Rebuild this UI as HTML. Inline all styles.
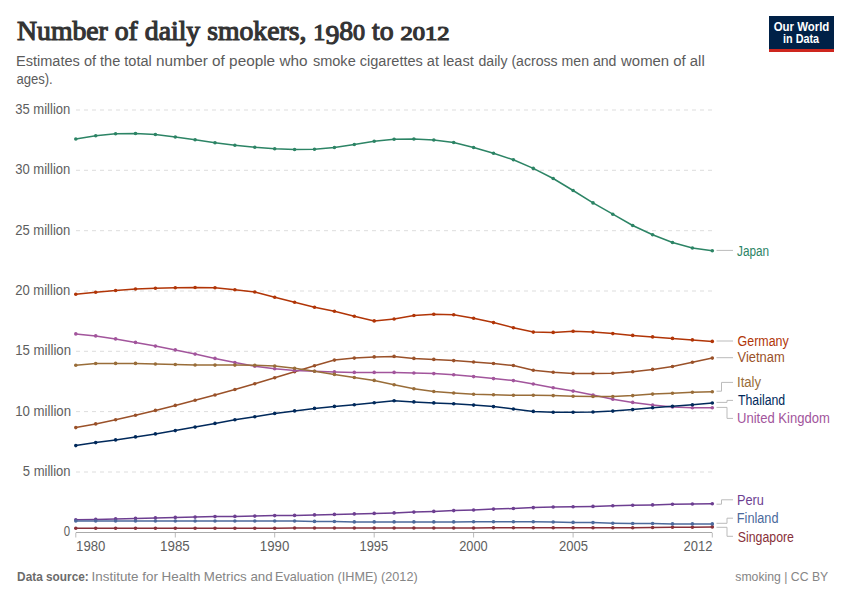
<!DOCTYPE html>
<html><head><meta charset="utf-8"><style>
html,body{margin:0;padding:0;background:#fff;}
body{width:850px;height:600px;overflow:hidden;position:relative;}
svg{position:absolute;left:0;top:0;}
</style></head><body>
<svg width="850" height="600" viewBox="0 0 850 600">
<rect x="769" y="16" width="65" height="36" fill="#002147"/>
<rect x="769" y="49" width="65" height="3" fill="#CE261E"/>
<line x1="76" x2="712" y1="472.0" y2="472.0" stroke="#ddd" stroke-width="1" stroke-dasharray="4,4"/>
<line x1="76" x2="712" y1="411.6" y2="411.6" stroke="#ddd" stroke-width="1" stroke-dasharray="4,4"/>
<line x1="76" x2="712" y1="351.3" y2="351.3" stroke="#ddd" stroke-width="1" stroke-dasharray="4,4"/>
<line x1="76" x2="712" y1="291.0" y2="291.0" stroke="#ddd" stroke-width="1" stroke-dasharray="4,4"/>
<line x1="76" x2="712" y1="230.7" y2="230.7" stroke="#ddd" stroke-width="1" stroke-dasharray="4,4"/>
<line x1="76" x2="712" y1="170.3" y2="170.3" stroke="#ddd" stroke-width="1" stroke-dasharray="4,4"/>
<line x1="76" x2="712" y1="110.0" y2="110.0" stroke="#ddd" stroke-width="1" stroke-dasharray="4,4"/>
<line x1="75.8" x2="712.2" y1="532.5" y2="532.5" stroke="#aaa" stroke-width="1"/>
<line x1="75.8" x2="75.8" y1="533" y2="537.5" stroke="#bbb" stroke-width="1"/>
<line x1="175.3" x2="175.3" y1="533" y2="537.5" stroke="#bbb" stroke-width="1"/>
<line x1="274.7" x2="274.7" y1="533" y2="537.5" stroke="#bbb" stroke-width="1"/>
<line x1="374.2" x2="374.2" y1="533" y2="537.5" stroke="#bbb" stroke-width="1"/>
<line x1="473.6" x2="473.6" y1="533" y2="537.5" stroke="#bbb" stroke-width="1"/>
<line x1="573.1" x2="573.1" y1="533" y2="537.5" stroke="#bbb" stroke-width="1"/>
<line x1="712.3" x2="712.3" y1="533" y2="537.5" stroke="#bbb" stroke-width="1"/>
<polyline points="75.8,427.6 95.7,423.9 115.6,419.7 135.5,415.2 155.4,410.4 175.3,405.4 195.1,400.2 215.0,395.0 234.9,389.5 254.8,383.7 274.7,377.8 294.6,371.8 314.5,365.7 334.4,360.1 354.3,358.1 374.2,356.9 394.1,356.4 413.9,358.4 433.8,359.4 453.7,360.6 473.6,362.0 493.5,363.5 513.4,365.5 533.3,370.3 553.2,372.3 573.1,373.4 593.0,373.4 612.8,373.2 632.7,371.7 652.6,369.4 672.5,366.5 692.4,362.3 712.3,358.1" fill="none" stroke="#9A5129" stroke-width="1.5"/>
<circle cx="75.8" cy="427.6" r="1.8" fill="#9A5129"/>
<circle cx="95.7" cy="423.9" r="1.8" fill="#9A5129"/>
<circle cx="115.6" cy="419.7" r="1.8" fill="#9A5129"/>
<circle cx="135.5" cy="415.2" r="1.8" fill="#9A5129"/>
<circle cx="155.4" cy="410.4" r="1.8" fill="#9A5129"/>
<circle cx="175.3" cy="405.4" r="1.8" fill="#9A5129"/>
<circle cx="195.1" cy="400.2" r="1.8" fill="#9A5129"/>
<circle cx="215.0" cy="395.0" r="1.8" fill="#9A5129"/>
<circle cx="234.9" cy="389.5" r="1.8" fill="#9A5129"/>
<circle cx="254.8" cy="383.7" r="1.8" fill="#9A5129"/>
<circle cx="274.7" cy="377.8" r="1.8" fill="#9A5129"/>
<circle cx="294.6" cy="371.8" r="1.8" fill="#9A5129"/>
<circle cx="314.5" cy="365.7" r="1.8" fill="#9A5129"/>
<circle cx="334.4" cy="360.1" r="1.8" fill="#9A5129"/>
<circle cx="354.3" cy="358.1" r="1.8" fill="#9A5129"/>
<circle cx="374.2" cy="356.9" r="1.8" fill="#9A5129"/>
<circle cx="394.1" cy="356.4" r="1.8" fill="#9A5129"/>
<circle cx="413.9" cy="358.4" r="1.8" fill="#9A5129"/>
<circle cx="433.8" cy="359.4" r="1.8" fill="#9A5129"/>
<circle cx="453.7" cy="360.6" r="1.8" fill="#9A5129"/>
<circle cx="473.6" cy="362.0" r="1.8" fill="#9A5129"/>
<circle cx="493.5" cy="363.5" r="1.8" fill="#9A5129"/>
<circle cx="513.4" cy="365.5" r="1.8" fill="#9A5129"/>
<circle cx="533.3" cy="370.3" r="1.8" fill="#9A5129"/>
<circle cx="553.2" cy="372.3" r="1.8" fill="#9A5129"/>
<circle cx="573.1" cy="373.4" r="1.8" fill="#9A5129"/>
<circle cx="593.0" cy="373.4" r="1.8" fill="#9A5129"/>
<circle cx="612.8" cy="373.2" r="1.8" fill="#9A5129"/>
<circle cx="632.7" cy="371.7" r="1.8" fill="#9A5129"/>
<circle cx="652.6" cy="369.4" r="1.8" fill="#9A5129"/>
<circle cx="672.5" cy="366.5" r="1.8" fill="#9A5129"/>
<circle cx="692.4" cy="362.3" r="1.8" fill="#9A5129"/>
<circle cx="712.3" cy="358.1" r="1.8" fill="#9A5129"/>
<polyline points="75.8,333.9 95.7,335.9 115.6,338.9 135.5,342.4 155.4,346.1 175.3,349.9 195.1,354.1 215.0,358.4 234.9,362.6 254.8,366.3 274.7,368.7 294.6,370.4 314.5,371.3 334.4,371.9 354.3,372.4 374.2,372.4 394.1,372.4 413.9,373.0 433.8,373.6 453.7,374.8 473.6,376.6 493.5,378.6 513.4,380.6 533.3,384.0 553.2,387.8 573.1,391.1 593.0,395.0 612.8,399.2 632.7,402.4 652.6,405.1 672.5,406.9 692.4,407.8 712.3,407.8" fill="none" stroke="#A2559C" stroke-width="1.5"/>
<circle cx="75.8" cy="333.9" r="1.8" fill="#A2559C"/>
<circle cx="95.7" cy="335.9" r="1.8" fill="#A2559C"/>
<circle cx="115.6" cy="338.9" r="1.8" fill="#A2559C"/>
<circle cx="135.5" cy="342.4" r="1.8" fill="#A2559C"/>
<circle cx="155.4" cy="346.1" r="1.8" fill="#A2559C"/>
<circle cx="175.3" cy="349.9" r="1.8" fill="#A2559C"/>
<circle cx="195.1" cy="354.1" r="1.8" fill="#A2559C"/>
<circle cx="215.0" cy="358.4" r="1.8" fill="#A2559C"/>
<circle cx="234.9" cy="362.6" r="1.8" fill="#A2559C"/>
<circle cx="254.8" cy="366.3" r="1.8" fill="#A2559C"/>
<circle cx="274.7" cy="368.7" r="1.8" fill="#A2559C"/>
<circle cx="294.6" cy="370.4" r="1.8" fill="#A2559C"/>
<circle cx="314.5" cy="371.3" r="1.8" fill="#A2559C"/>
<circle cx="334.4" cy="371.9" r="1.8" fill="#A2559C"/>
<circle cx="354.3" cy="372.4" r="1.8" fill="#A2559C"/>
<circle cx="374.2" cy="372.4" r="1.8" fill="#A2559C"/>
<circle cx="394.1" cy="372.4" r="1.8" fill="#A2559C"/>
<circle cx="413.9" cy="373.0" r="1.8" fill="#A2559C"/>
<circle cx="433.8" cy="373.6" r="1.8" fill="#A2559C"/>
<circle cx="453.7" cy="374.8" r="1.8" fill="#A2559C"/>
<circle cx="473.6" cy="376.6" r="1.8" fill="#A2559C"/>
<circle cx="493.5" cy="378.6" r="1.8" fill="#A2559C"/>
<circle cx="513.4" cy="380.6" r="1.8" fill="#A2559C"/>
<circle cx="533.3" cy="384.0" r="1.8" fill="#A2559C"/>
<circle cx="553.2" cy="387.8" r="1.8" fill="#A2559C"/>
<circle cx="573.1" cy="391.1" r="1.8" fill="#A2559C"/>
<circle cx="593.0" cy="395.0" r="1.8" fill="#A2559C"/>
<circle cx="612.8" cy="399.2" r="1.8" fill="#A2559C"/>
<circle cx="632.7" cy="402.4" r="1.8" fill="#A2559C"/>
<circle cx="652.6" cy="405.1" r="1.8" fill="#A2559C"/>
<circle cx="672.5" cy="406.9" r="1.8" fill="#A2559C"/>
<circle cx="692.4" cy="407.8" r="1.8" fill="#A2559C"/>
<circle cx="712.3" cy="407.8" r="1.8" fill="#A2559C"/>
<polyline points="75.8,445.6 95.7,442.6 115.6,439.9 135.5,436.9 155.4,433.9 175.3,430.6 195.1,427.1 215.0,423.4 234.9,419.7 254.8,416.7 274.7,413.4 294.6,410.9 314.5,408.4 334.4,406.4 354.3,404.7 374.2,402.7 394.1,400.7 413.9,401.9 433.8,402.9 453.7,403.7 473.6,405.1 493.5,406.6 513.4,409.0 533.3,411.4 553.2,412.3 573.1,412.3 593.0,412.0 612.8,411.1 632.7,409.6 652.6,407.8 672.5,406.3 692.4,404.8 712.3,403.0" fill="none" stroke="#00295B" stroke-width="1.5"/>
<circle cx="75.8" cy="445.6" r="1.8" fill="#00295B"/>
<circle cx="95.7" cy="442.6" r="1.8" fill="#00295B"/>
<circle cx="115.6" cy="439.9" r="1.8" fill="#00295B"/>
<circle cx="135.5" cy="436.9" r="1.8" fill="#00295B"/>
<circle cx="155.4" cy="433.9" r="1.8" fill="#00295B"/>
<circle cx="175.3" cy="430.6" r="1.8" fill="#00295B"/>
<circle cx="195.1" cy="427.1" r="1.8" fill="#00295B"/>
<circle cx="215.0" cy="423.4" r="1.8" fill="#00295B"/>
<circle cx="234.9" cy="419.7" r="1.8" fill="#00295B"/>
<circle cx="254.8" cy="416.7" r="1.8" fill="#00295B"/>
<circle cx="274.7" cy="413.4" r="1.8" fill="#00295B"/>
<circle cx="294.6" cy="410.9" r="1.8" fill="#00295B"/>
<circle cx="314.5" cy="408.4" r="1.8" fill="#00295B"/>
<circle cx="334.4" cy="406.4" r="1.8" fill="#00295B"/>
<circle cx="354.3" cy="404.7" r="1.8" fill="#00295B"/>
<circle cx="374.2" cy="402.7" r="1.8" fill="#00295B"/>
<circle cx="394.1" cy="400.7" r="1.8" fill="#00295B"/>
<circle cx="413.9" cy="401.9" r="1.8" fill="#00295B"/>
<circle cx="433.8" cy="402.9" r="1.8" fill="#00295B"/>
<circle cx="453.7" cy="403.7" r="1.8" fill="#00295B"/>
<circle cx="473.6" cy="405.1" r="1.8" fill="#00295B"/>
<circle cx="493.5" cy="406.6" r="1.8" fill="#00295B"/>
<circle cx="513.4" cy="409.0" r="1.8" fill="#00295B"/>
<circle cx="533.3" cy="411.4" r="1.8" fill="#00295B"/>
<circle cx="553.2" cy="412.3" r="1.8" fill="#00295B"/>
<circle cx="573.1" cy="412.3" r="1.8" fill="#00295B"/>
<circle cx="593.0" cy="412.0" r="1.8" fill="#00295B"/>
<circle cx="612.8" cy="411.1" r="1.8" fill="#00295B"/>
<circle cx="632.7" cy="409.6" r="1.8" fill="#00295B"/>
<circle cx="652.6" cy="407.8" r="1.8" fill="#00295B"/>
<circle cx="672.5" cy="406.3" r="1.8" fill="#00295B"/>
<circle cx="692.4" cy="404.8" r="1.8" fill="#00295B"/>
<circle cx="712.3" cy="403.0" r="1.8" fill="#00295B"/>
<polyline points="75.8,528.2 95.7,528.2 115.6,528.2 135.5,528.2 155.4,528.2 175.3,528.2 195.1,528.2 215.0,528.2 234.9,528.2 254.8,528.2 274.7,528.2 294.6,528.0 314.5,528.0 334.4,528.0 354.3,528.0 374.2,528.0 394.1,528.0 413.9,528.0 433.8,528.0 453.7,528.0 473.6,528.0 493.5,527.8 513.4,527.8 533.3,527.8 553.2,527.8 573.1,527.8 593.0,527.8 612.8,527.8 632.7,527.8 652.6,527.5 672.5,527.2 692.4,527.2 712.3,526.9" fill="none" stroke="#883039" stroke-width="1.5"/>
<circle cx="75.8" cy="528.2" r="1.8" fill="#883039"/>
<circle cx="95.7" cy="528.2" r="1.8" fill="#883039"/>
<circle cx="115.6" cy="528.2" r="1.8" fill="#883039"/>
<circle cx="135.5" cy="528.2" r="1.8" fill="#883039"/>
<circle cx="155.4" cy="528.2" r="1.8" fill="#883039"/>
<circle cx="175.3" cy="528.2" r="1.8" fill="#883039"/>
<circle cx="195.1" cy="528.2" r="1.8" fill="#883039"/>
<circle cx="215.0" cy="528.2" r="1.8" fill="#883039"/>
<circle cx="234.9" cy="528.2" r="1.8" fill="#883039"/>
<circle cx="254.8" cy="528.2" r="1.8" fill="#883039"/>
<circle cx="274.7" cy="528.2" r="1.8" fill="#883039"/>
<circle cx="294.6" cy="528.0" r="1.8" fill="#883039"/>
<circle cx="314.5" cy="528.0" r="1.8" fill="#883039"/>
<circle cx="334.4" cy="528.0" r="1.8" fill="#883039"/>
<circle cx="354.3" cy="528.0" r="1.8" fill="#883039"/>
<circle cx="374.2" cy="528.0" r="1.8" fill="#883039"/>
<circle cx="394.1" cy="528.0" r="1.8" fill="#883039"/>
<circle cx="413.9" cy="528.0" r="1.8" fill="#883039"/>
<circle cx="433.8" cy="528.0" r="1.8" fill="#883039"/>
<circle cx="453.7" cy="528.0" r="1.8" fill="#883039"/>
<circle cx="473.6" cy="528.0" r="1.8" fill="#883039"/>
<circle cx="493.5" cy="527.8" r="1.8" fill="#883039"/>
<circle cx="513.4" cy="527.8" r="1.8" fill="#883039"/>
<circle cx="533.3" cy="527.8" r="1.8" fill="#883039"/>
<circle cx="553.2" cy="527.8" r="1.8" fill="#883039"/>
<circle cx="573.1" cy="527.8" r="1.8" fill="#883039"/>
<circle cx="593.0" cy="527.8" r="1.8" fill="#883039"/>
<circle cx="612.8" cy="527.8" r="1.8" fill="#883039"/>
<circle cx="632.7" cy="527.8" r="1.8" fill="#883039"/>
<circle cx="652.6" cy="527.5" r="1.8" fill="#883039"/>
<circle cx="672.5" cy="527.2" r="1.8" fill="#883039"/>
<circle cx="692.4" cy="527.2" r="1.8" fill="#883039"/>
<circle cx="712.3" cy="526.9" r="1.8" fill="#883039"/>
<polyline points="75.8,519.8 95.7,519.4 115.6,518.9 135.5,518.4 155.4,517.9 175.3,517.4 195.1,517.1 215.0,516.6 234.9,516.4 254.8,516.1 274.7,515.6 294.6,515.4 314.5,514.9 334.4,514.4 354.3,513.9 374.2,513.4 394.1,512.9 413.9,512.1 433.8,511.4 453.7,510.6 473.6,510.0 493.5,509.1 513.4,508.5 533.3,507.6 553.2,507.0 573.1,506.7 593.0,506.4 612.8,505.8 632.7,505.2 652.6,504.9 672.5,504.3 692.4,504.0 712.3,503.7" fill="none" stroke="#6D3E91" stroke-width="1.5"/>
<circle cx="75.8" cy="519.8" r="1.8" fill="#6D3E91"/>
<circle cx="95.7" cy="519.4" r="1.8" fill="#6D3E91"/>
<circle cx="115.6" cy="518.9" r="1.8" fill="#6D3E91"/>
<circle cx="135.5" cy="518.4" r="1.8" fill="#6D3E91"/>
<circle cx="155.4" cy="517.9" r="1.8" fill="#6D3E91"/>
<circle cx="175.3" cy="517.4" r="1.8" fill="#6D3E91"/>
<circle cx="195.1" cy="517.1" r="1.8" fill="#6D3E91"/>
<circle cx="215.0" cy="516.6" r="1.8" fill="#6D3E91"/>
<circle cx="234.9" cy="516.4" r="1.8" fill="#6D3E91"/>
<circle cx="254.8" cy="516.1" r="1.8" fill="#6D3E91"/>
<circle cx="274.7" cy="515.6" r="1.8" fill="#6D3E91"/>
<circle cx="294.6" cy="515.4" r="1.8" fill="#6D3E91"/>
<circle cx="314.5" cy="514.9" r="1.8" fill="#6D3E91"/>
<circle cx="334.4" cy="514.4" r="1.8" fill="#6D3E91"/>
<circle cx="354.3" cy="513.9" r="1.8" fill="#6D3E91"/>
<circle cx="374.2" cy="513.4" r="1.8" fill="#6D3E91"/>
<circle cx="394.1" cy="512.9" r="1.8" fill="#6D3E91"/>
<circle cx="413.9" cy="512.1" r="1.8" fill="#6D3E91"/>
<circle cx="433.8" cy="511.4" r="1.8" fill="#6D3E91"/>
<circle cx="453.7" cy="510.6" r="1.8" fill="#6D3E91"/>
<circle cx="473.6" cy="510.0" r="1.8" fill="#6D3E91"/>
<circle cx="493.5" cy="509.1" r="1.8" fill="#6D3E91"/>
<circle cx="513.4" cy="508.5" r="1.8" fill="#6D3E91"/>
<circle cx="533.3" cy="507.6" r="1.8" fill="#6D3E91"/>
<circle cx="553.2" cy="507.0" r="1.8" fill="#6D3E91"/>
<circle cx="573.1" cy="506.7" r="1.8" fill="#6D3E91"/>
<circle cx="593.0" cy="506.4" r="1.8" fill="#6D3E91"/>
<circle cx="612.8" cy="505.8" r="1.8" fill="#6D3E91"/>
<circle cx="632.7" cy="505.2" r="1.8" fill="#6D3E91"/>
<circle cx="652.6" cy="504.9" r="1.8" fill="#6D3E91"/>
<circle cx="672.5" cy="504.3" r="1.8" fill="#6D3E91"/>
<circle cx="692.4" cy="504.0" r="1.8" fill="#6D3E91"/>
<circle cx="712.3" cy="503.7" r="1.8" fill="#6D3E91"/>
<polyline points="75.8,139.0 95.7,135.8 115.6,133.8 135.5,133.5 155.4,134.5 175.3,137.0 195.1,139.8 215.0,142.7 234.9,145.2 254.8,147.2 274.7,148.7 294.6,149.5 314.5,149.2 334.4,147.5 354.3,144.5 374.2,141.2 394.1,139.3 413.9,139.0 433.8,140.0 453.7,142.5 473.6,147.5 493.5,153.3 513.4,159.8 533.3,168.4 553.2,178.5 573.1,190.5 593.0,202.9 612.8,214.2 632.7,225.5 652.6,234.8 672.5,242.5 692.4,248.0 712.3,250.7" fill="none" stroke="#2C8465" stroke-width="1.5"/>
<circle cx="75.8" cy="139.0" r="1.8" fill="#2C8465"/>
<circle cx="95.7" cy="135.8" r="1.8" fill="#2C8465"/>
<circle cx="115.6" cy="133.8" r="1.8" fill="#2C8465"/>
<circle cx="135.5" cy="133.5" r="1.8" fill="#2C8465"/>
<circle cx="155.4" cy="134.5" r="1.8" fill="#2C8465"/>
<circle cx="175.3" cy="137.0" r="1.8" fill="#2C8465"/>
<circle cx="195.1" cy="139.8" r="1.8" fill="#2C8465"/>
<circle cx="215.0" cy="142.7" r="1.8" fill="#2C8465"/>
<circle cx="234.9" cy="145.2" r="1.8" fill="#2C8465"/>
<circle cx="254.8" cy="147.2" r="1.8" fill="#2C8465"/>
<circle cx="274.7" cy="148.7" r="1.8" fill="#2C8465"/>
<circle cx="294.6" cy="149.5" r="1.8" fill="#2C8465"/>
<circle cx="314.5" cy="149.2" r="1.8" fill="#2C8465"/>
<circle cx="334.4" cy="147.5" r="1.8" fill="#2C8465"/>
<circle cx="354.3" cy="144.5" r="1.8" fill="#2C8465"/>
<circle cx="374.2" cy="141.2" r="1.8" fill="#2C8465"/>
<circle cx="394.1" cy="139.3" r="1.8" fill="#2C8465"/>
<circle cx="413.9" cy="139.0" r="1.8" fill="#2C8465"/>
<circle cx="433.8" cy="140.0" r="1.8" fill="#2C8465"/>
<circle cx="453.7" cy="142.5" r="1.8" fill="#2C8465"/>
<circle cx="473.6" cy="147.5" r="1.8" fill="#2C8465"/>
<circle cx="493.5" cy="153.3" r="1.8" fill="#2C8465"/>
<circle cx="513.4" cy="159.8" r="1.8" fill="#2C8465"/>
<circle cx="533.3" cy="168.4" r="1.8" fill="#2C8465"/>
<circle cx="553.2" cy="178.5" r="1.8" fill="#2C8465"/>
<circle cx="573.1" cy="190.5" r="1.8" fill="#2C8465"/>
<circle cx="593.0" cy="202.9" r="1.8" fill="#2C8465"/>
<circle cx="612.8" cy="214.2" r="1.8" fill="#2C8465"/>
<circle cx="632.7" cy="225.5" r="1.8" fill="#2C8465"/>
<circle cx="652.6" cy="234.8" r="1.8" fill="#2C8465"/>
<circle cx="672.5" cy="242.5" r="1.8" fill="#2C8465"/>
<circle cx="692.4" cy="248.0" r="1.8" fill="#2C8465"/>
<circle cx="712.3" cy="250.7" r="1.8" fill="#2C8465"/>
<polyline points="75.8,365.3 95.7,363.5 115.6,363.4 135.5,363.4 155.4,364.0 175.3,364.5 195.1,365.0 215.0,365.1 234.9,365.1 254.8,365.3 274.7,366.0 294.6,368.3 314.5,371.3 334.4,374.4 354.3,377.5 374.2,380.4 394.1,384.7 413.9,388.7 433.8,391.5 453.7,393.0 473.6,394.2 493.5,394.7 513.4,395.3 533.3,395.3 553.2,395.6 573.1,396.2 593.0,396.5 612.8,396.5 632.7,395.6 652.6,394.1 672.5,393.2 692.4,392.3 712.3,391.7" fill="none" stroke="#996D39" stroke-width="1.5"/>
<circle cx="75.8" cy="365.3" r="1.8" fill="#996D39"/>
<circle cx="95.7" cy="363.5" r="1.8" fill="#996D39"/>
<circle cx="115.6" cy="363.4" r="1.8" fill="#996D39"/>
<circle cx="135.5" cy="363.4" r="1.8" fill="#996D39"/>
<circle cx="155.4" cy="364.0" r="1.8" fill="#996D39"/>
<circle cx="175.3" cy="364.5" r="1.8" fill="#996D39"/>
<circle cx="195.1" cy="365.0" r="1.8" fill="#996D39"/>
<circle cx="215.0" cy="365.1" r="1.8" fill="#996D39"/>
<circle cx="234.9" cy="365.1" r="1.8" fill="#996D39"/>
<circle cx="254.8" cy="365.3" r="1.8" fill="#996D39"/>
<circle cx="274.7" cy="366.0" r="1.8" fill="#996D39"/>
<circle cx="294.6" cy="368.3" r="1.8" fill="#996D39"/>
<circle cx="314.5" cy="371.3" r="1.8" fill="#996D39"/>
<circle cx="334.4" cy="374.4" r="1.8" fill="#996D39"/>
<circle cx="354.3" cy="377.5" r="1.8" fill="#996D39"/>
<circle cx="374.2" cy="380.4" r="1.8" fill="#996D39"/>
<circle cx="394.1" cy="384.7" r="1.8" fill="#996D39"/>
<circle cx="413.9" cy="388.7" r="1.8" fill="#996D39"/>
<circle cx="433.8" cy="391.5" r="1.8" fill="#996D39"/>
<circle cx="453.7" cy="393.0" r="1.8" fill="#996D39"/>
<circle cx="473.6" cy="394.2" r="1.8" fill="#996D39"/>
<circle cx="493.5" cy="394.7" r="1.8" fill="#996D39"/>
<circle cx="513.4" cy="395.3" r="1.8" fill="#996D39"/>
<circle cx="533.3" cy="395.3" r="1.8" fill="#996D39"/>
<circle cx="553.2" cy="395.6" r="1.8" fill="#996D39"/>
<circle cx="573.1" cy="396.2" r="1.8" fill="#996D39"/>
<circle cx="593.0" cy="396.5" r="1.8" fill="#996D39"/>
<circle cx="612.8" cy="396.5" r="1.8" fill="#996D39"/>
<circle cx="632.7" cy="395.6" r="1.8" fill="#996D39"/>
<circle cx="652.6" cy="394.1" r="1.8" fill="#996D39"/>
<circle cx="672.5" cy="393.2" r="1.8" fill="#996D39"/>
<circle cx="692.4" cy="392.3" r="1.8" fill="#996D39"/>
<circle cx="712.3" cy="391.7" r="1.8" fill="#996D39"/>
<polyline points="75.8,294.3 95.7,292.3 115.6,290.5 135.5,289.0 155.4,288.3 175.3,287.8 195.1,287.5 215.0,287.8 234.9,289.8 254.8,292.0 274.7,297.3 294.6,302.2 314.5,307.2 334.4,311.2 354.3,316.2 374.2,320.9 394.1,319.0 413.9,315.5 433.8,314.2 453.7,314.7 473.6,318.2 493.5,322.6 513.4,327.7 533.3,332.1 553.2,332.4 573.1,331.2 593.0,332.1 612.8,333.6 632.7,335.4 652.6,336.9 672.5,338.4 692.4,339.9 712.3,341.4" fill="none" stroke="#B13507" stroke-width="1.5"/>
<circle cx="75.8" cy="294.3" r="1.8" fill="#B13507"/>
<circle cx="95.7" cy="292.3" r="1.8" fill="#B13507"/>
<circle cx="115.6" cy="290.5" r="1.8" fill="#B13507"/>
<circle cx="135.5" cy="289.0" r="1.8" fill="#B13507"/>
<circle cx="155.4" cy="288.3" r="1.8" fill="#B13507"/>
<circle cx="175.3" cy="287.8" r="1.8" fill="#B13507"/>
<circle cx="195.1" cy="287.5" r="1.8" fill="#B13507"/>
<circle cx="215.0" cy="287.8" r="1.8" fill="#B13507"/>
<circle cx="234.9" cy="289.8" r="1.8" fill="#B13507"/>
<circle cx="254.8" cy="292.0" r="1.8" fill="#B13507"/>
<circle cx="274.7" cy="297.3" r="1.8" fill="#B13507"/>
<circle cx="294.6" cy="302.2" r="1.8" fill="#B13507"/>
<circle cx="314.5" cy="307.2" r="1.8" fill="#B13507"/>
<circle cx="334.4" cy="311.2" r="1.8" fill="#B13507"/>
<circle cx="354.3" cy="316.2" r="1.8" fill="#B13507"/>
<circle cx="374.2" cy="320.9" r="1.8" fill="#B13507"/>
<circle cx="394.1" cy="319.0" r="1.8" fill="#B13507"/>
<circle cx="413.9" cy="315.5" r="1.8" fill="#B13507"/>
<circle cx="433.8" cy="314.2" r="1.8" fill="#B13507"/>
<circle cx="453.7" cy="314.7" r="1.8" fill="#B13507"/>
<circle cx="473.6" cy="318.2" r="1.8" fill="#B13507"/>
<circle cx="493.5" cy="322.6" r="1.8" fill="#B13507"/>
<circle cx="513.4" cy="327.7" r="1.8" fill="#B13507"/>
<circle cx="533.3" cy="332.1" r="1.8" fill="#B13507"/>
<circle cx="553.2" cy="332.4" r="1.8" fill="#B13507"/>
<circle cx="573.1" cy="331.2" r="1.8" fill="#B13507"/>
<circle cx="593.0" cy="332.1" r="1.8" fill="#B13507"/>
<circle cx="612.8" cy="333.6" r="1.8" fill="#B13507"/>
<circle cx="632.7" cy="335.4" r="1.8" fill="#B13507"/>
<circle cx="652.6" cy="336.9" r="1.8" fill="#B13507"/>
<circle cx="672.5" cy="338.4" r="1.8" fill="#B13507"/>
<circle cx="692.4" cy="339.9" r="1.8" fill="#B13507"/>
<circle cx="712.3" cy="341.4" r="1.8" fill="#B13507"/>
<polyline points="75.8,521.0 95.7,521.0 115.6,521.0 135.5,521.0 155.4,521.0 175.3,521.0 195.1,521.0 215.0,521.0 234.9,521.0 254.8,521.0 274.7,521.0 294.6,521.0 314.5,521.4 334.4,521.5 354.3,521.9 374.2,521.9 394.1,521.9 413.9,521.9 433.8,521.9 453.7,521.9 473.6,521.8 493.5,521.8 513.4,521.8 533.3,521.8 553.2,522.0 573.1,522.4 593.0,522.6 612.8,523.2 632.7,523.5 652.6,523.5 672.5,523.9 692.4,523.9 712.3,523.9" fill="none" stroke="#4C6A9C" stroke-width="1.5"/>
<circle cx="75.8" cy="521.0" r="1.8" fill="#4C6A9C"/>
<circle cx="95.7" cy="521.0" r="1.8" fill="#4C6A9C"/>
<circle cx="115.6" cy="521.0" r="1.8" fill="#4C6A9C"/>
<circle cx="135.5" cy="521.0" r="1.8" fill="#4C6A9C"/>
<circle cx="155.4" cy="521.0" r="1.8" fill="#4C6A9C"/>
<circle cx="175.3" cy="521.0" r="1.8" fill="#4C6A9C"/>
<circle cx="195.1" cy="521.0" r="1.8" fill="#4C6A9C"/>
<circle cx="215.0" cy="521.0" r="1.8" fill="#4C6A9C"/>
<circle cx="234.9" cy="521.0" r="1.8" fill="#4C6A9C"/>
<circle cx="254.8" cy="521.0" r="1.8" fill="#4C6A9C"/>
<circle cx="274.7" cy="521.0" r="1.8" fill="#4C6A9C"/>
<circle cx="294.6" cy="521.0" r="1.8" fill="#4C6A9C"/>
<circle cx="314.5" cy="521.4" r="1.8" fill="#4C6A9C"/>
<circle cx="334.4" cy="521.5" r="1.8" fill="#4C6A9C"/>
<circle cx="354.3" cy="521.9" r="1.8" fill="#4C6A9C"/>
<circle cx="374.2" cy="521.9" r="1.8" fill="#4C6A9C"/>
<circle cx="394.1" cy="521.9" r="1.8" fill="#4C6A9C"/>
<circle cx="413.9" cy="521.9" r="1.8" fill="#4C6A9C"/>
<circle cx="433.8" cy="521.9" r="1.8" fill="#4C6A9C"/>
<circle cx="453.7" cy="521.9" r="1.8" fill="#4C6A9C"/>
<circle cx="473.6" cy="521.8" r="1.8" fill="#4C6A9C"/>
<circle cx="493.5" cy="521.8" r="1.8" fill="#4C6A9C"/>
<circle cx="513.4" cy="521.8" r="1.8" fill="#4C6A9C"/>
<circle cx="533.3" cy="521.8" r="1.8" fill="#4C6A9C"/>
<circle cx="553.2" cy="522.0" r="1.8" fill="#4C6A9C"/>
<circle cx="573.1" cy="522.4" r="1.8" fill="#4C6A9C"/>
<circle cx="593.0" cy="522.6" r="1.8" fill="#4C6A9C"/>
<circle cx="612.8" cy="523.2" r="1.8" fill="#4C6A9C"/>
<circle cx="632.7" cy="523.5" r="1.8" fill="#4C6A9C"/>
<circle cx="652.6" cy="523.5" r="1.8" fill="#4C6A9C"/>
<circle cx="672.5" cy="523.9" r="1.8" fill="#4C6A9C"/>
<circle cx="692.4" cy="523.9" r="1.8" fill="#4C6A9C"/>
<circle cx="712.3" cy="523.9" r="1.8" fill="#4C6A9C"/>
<path d="M716.5 250.4 H733" fill="none" stroke="#bbb" stroke-width="1"/>
<path d="M716.5 341 H733" fill="none" stroke="#bbb" stroke-width="1"/>
<path d="M716.5 357.7 H733" fill="none" stroke="#bbb" stroke-width="1"/>
<path d="M716.5 391.2 H721.5 V382.4 H733" fill="none" stroke="#bbb" stroke-width="1"/>
<path d="M716.5 402.4 H727 V400.4 H733" fill="none" stroke="#bbb" stroke-width="1"/>
<path d="M716.5 407.4 H727 V418.4 H733" fill="none" stroke="#bbb" stroke-width="1"/>
<path d="M716.5 504.2 H721.5 V499.8 H733" fill="none" stroke="#bbb" stroke-width="1"/>
<path d="M716.5 523.3 H727 V518.2 H733" fill="none" stroke="#bbb" stroke-width="1"/>
<path d="M716.5 527.3 H727 V536.3 H733" fill="none" stroke="#bbb" stroke-width="1"/>
<text x="17.00" y="40.3" textLength="376.67" lengthAdjust="spacingAndGlyphs" style="font-family:'Liberation Serif',serif;font-size:26.5px;font-weight:normal;fill:#333;stroke:#333;stroke-width:1.1px">Number of daily smokers, <tspan font-size="23">1</tspan><tspan dy="4">9</tspan><tspan dy="-4">8</tspan><tspan font-size="23">0</tspan> to</text>
<text x="400.50" y="40.3" textLength="48.91" lengthAdjust="spacingAndGlyphs" style="font-family:'Liberation Serif',serif;font-size:18.5px;font-weight:normal;fill:#333;stroke:#333;stroke-width:1.1px">2012</text>
<text x="16.00" y="66.2" textLength="135.81" lengthAdjust="spacingAndGlyphs" style="font-family:'Liberation Sans',sans-serif;font-size:14px;font-weight:normal;fill:#5b5b5b;">Estimates of the total</text>
<text x="155.90" y="66.2" textLength="151.61" lengthAdjust="spacingAndGlyphs" style="font-family:'Liberation Sans',sans-serif;font-size:14px;font-weight:normal;fill:#5b5b5b;">number of people who</text>
<text x="312.90" y="66.2" textLength="160.87" lengthAdjust="spacingAndGlyphs" style="font-family:'Liberation Sans',sans-serif;font-size:14px;font-weight:normal;fill:#5b5b5b;">smoke cigarettes at least</text>
<text x="478.50" y="66.2" textLength="137.96" lengthAdjust="spacingAndGlyphs" style="font-family:'Liberation Sans',sans-serif;font-size:14px;font-weight:normal;fill:#5b5b5b;">daily (across men and</text>
<text x="621.10" y="66.2" textLength="83.64" lengthAdjust="spacingAndGlyphs" style="font-family:'Liberation Sans',sans-serif;font-size:14px;font-weight:normal;fill:#5b5b5b;">women of all</text>
<text x="16.40" y="84.3" textLength="36.34" lengthAdjust="spacingAndGlyphs" style="font-family:'Liberation Sans',sans-serif;font-size:14px;font-weight:normal;fill:#5b5b5b;">ages).</text>
<text x="63.70" y="536.1999999999999" textLength="6.36" lengthAdjust="spacingAndGlyphs" style="font-family:'Liberation Sans',sans-serif;font-size:13.8px;font-weight:normal;fill:#5e5e5e;">0</text>
<text x="22.80" y="475.8714285714285" textLength="47.82" lengthAdjust="spacingAndGlyphs" style="font-family:'Liberation Sans',sans-serif;font-size:13.8px;font-weight:normal;fill:#5e5e5e;">5 million</text>
<text x="15.20" y="415.5428571428571" textLength="55.84" lengthAdjust="spacingAndGlyphs" style="font-family:'Liberation Sans',sans-serif;font-size:13.8px;font-weight:normal;fill:#5e5e5e;">10 million</text>
<text x="15.20" y="355.21428571428567" textLength="55.84" lengthAdjust="spacingAndGlyphs" style="font-family:'Liberation Sans',sans-serif;font-size:13.8px;font-weight:normal;fill:#5e5e5e;">15 million</text>
<text x="15.20" y="294.88571428571424" textLength="55.13" lengthAdjust="spacingAndGlyphs" style="font-family:'Liberation Sans',sans-serif;font-size:13.8px;font-weight:normal;fill:#5e5e5e;">20 million</text>
<text x="15.20" y="234.5571428571428" textLength="55.13" lengthAdjust="spacingAndGlyphs" style="font-family:'Liberation Sans',sans-serif;font-size:13.8px;font-weight:normal;fill:#5e5e5e;">25 million</text>
<text x="15.20" y="174.22857142857143" textLength="55.13" lengthAdjust="spacingAndGlyphs" style="font-family:'Liberation Sans',sans-serif;font-size:13.8px;font-weight:normal;fill:#5e5e5e;">30 million</text>
<text x="15.20" y="113.90000000000006" textLength="55.13" lengthAdjust="spacingAndGlyphs" style="font-family:'Liberation Sans',sans-serif;font-size:13.8px;font-weight:normal;fill:#5e5e5e;">35 million</text>
<text x="76.10" y="550.9" textLength="29.31" lengthAdjust="spacingAndGlyphs" style="font-family:'Liberation Sans',sans-serif;font-size:14px;font-weight:normal;fill:#5e5e5e;">1980</text>
<text x="160.10" y="550.9" textLength="29.59" lengthAdjust="spacingAndGlyphs" style="font-family:'Liberation Sans',sans-serif;font-size:14px;font-weight:normal;fill:#5e5e5e;">1985</text>
<text x="259.81" y="550.9" textLength="29.48" lengthAdjust="spacingAndGlyphs" style="font-family:'Liberation Sans',sans-serif;font-size:14px;font-weight:normal;fill:#5e5e5e;">1990</text>
<text x="359.51" y="550.9" textLength="28.67" lengthAdjust="spacingAndGlyphs" style="font-family:'Liberation Sans',sans-serif;font-size:14px;font-weight:normal;fill:#5e5e5e;">1995</text>
<text x="459.21" y="550.9" textLength="28.53" lengthAdjust="spacingAndGlyphs" style="font-family:'Liberation Sans',sans-serif;font-size:14px;font-weight:normal;fill:#5e5e5e;">2000</text>
<text x="558.92" y="550.9" textLength="28.98" lengthAdjust="spacingAndGlyphs" style="font-family:'Liberation Sans',sans-serif;font-size:14px;font-weight:normal;fill:#5e5e5e;">2005</text>
<text x="683.50" y="550.9" textLength="28.88" lengthAdjust="spacingAndGlyphs" style="font-family:'Liberation Sans',sans-serif;font-size:14px;font-weight:normal;fill:#5e5e5e;">2012</text>
<text x="737.10" y="255.8" textLength="32.04" lengthAdjust="spacingAndGlyphs" style="font-family:'Liberation Sans',sans-serif;font-size:13.8px;font-weight:normal;fill:#2C8465;">Japan</text>
<text x="737.60" y="345.7" textLength="51.14" lengthAdjust="spacingAndGlyphs" style="font-family:'Liberation Sans',sans-serif;font-size:13.8px;font-weight:normal;fill:#B13507;">Germany</text>
<text x="737.60" y="362.0" textLength="47.15" lengthAdjust="spacingAndGlyphs" style="font-family:'Liberation Sans',sans-serif;font-size:13.8px;font-weight:normal;fill:#9A5129;">Vietnam</text>
<text x="737.00" y="387.4" textLength="24.07" lengthAdjust="spacingAndGlyphs" style="font-family:'Liberation Sans',sans-serif;font-size:13.8px;font-weight:normal;fill:#996D39;">Italy</text>
<text x="738.00" y="405.3" textLength="47.14" lengthAdjust="spacingAndGlyphs" style="font-family:'Liberation Sans',sans-serif;font-size:13.8px;font-weight:normal;fill:#00295B;">Thailand</text>
<text x="737.00" y="423.2" textLength="92.77" lengthAdjust="spacingAndGlyphs" style="font-family:'Liberation Sans',sans-serif;font-size:13.8px;font-weight:normal;fill:#A2559C;">United Kingdom</text>
<text x="736.90" y="504.7" textLength="26.93" lengthAdjust="spacingAndGlyphs" style="font-family:'Liberation Sans',sans-serif;font-size:13.8px;font-weight:normal;fill:#6D3E91;">Peru</text>
<text x="736.80" y="523.0" textLength="41.73" lengthAdjust="spacingAndGlyphs" style="font-family:'Liberation Sans',sans-serif;font-size:13.8px;font-weight:normal;fill:#4C6A9C;">Finland</text>
<text x="737.80" y="541.7" textLength="56.16" lengthAdjust="spacingAndGlyphs" style="font-family:'Liberation Sans',sans-serif;font-size:13.8px;font-weight:normal;fill:#883039;">Singapore</text>
<text x="17.10" y="580.9" textLength="71.64" lengthAdjust="spacingAndGlyphs" style="font-family:'Liberation Sans',sans-serif;font-size:13px;font-weight:bold;fill:#6b6b6b;">Data source:</text>
<text x="91.60" y="580.9" textLength="108.76" lengthAdjust="spacingAndGlyphs" style="font-family:'Liberation Sans',sans-serif;font-size:13px;font-weight:normal;fill:#858585;">Institute for Health</text>
<text x="203.80" y="580.9" textLength="68.86" lengthAdjust="spacingAndGlyphs" style="font-family:'Liberation Sans',sans-serif;font-size:13px;font-weight:normal;fill:#858585;">Metrics and</text>
<text x="275.00" y="580.9" textLength="142.63" lengthAdjust="spacingAndGlyphs" style="font-family:'Liberation Sans',sans-serif;font-size:13px;font-weight:normal;fill:#858585;">Evaluation (IHME) (2012)</text>
<text x="735.30" y="580.9" textLength="92.93" lengthAdjust="spacingAndGlyphs" style="font-family:'Liberation Sans',sans-serif;font-size:13px;font-weight:normal;fill:#858585;">smoking | CC BY</text>
<text x="773.70" y="30.9" textLength="55.66" lengthAdjust="spacingAndGlyphs" style="font-family:'Liberation Sans',sans-serif;font-size:12.3px;font-weight:bold;fill:#fff;">Our World</text>
<text x="783.10" y="42.9" textLength="36.02" lengthAdjust="spacingAndGlyphs" style="font-family:'Liberation Sans',sans-serif;font-size:12.3px;font-weight:bold;fill:#fff;">in Data</text>
</svg>
</body></html>
